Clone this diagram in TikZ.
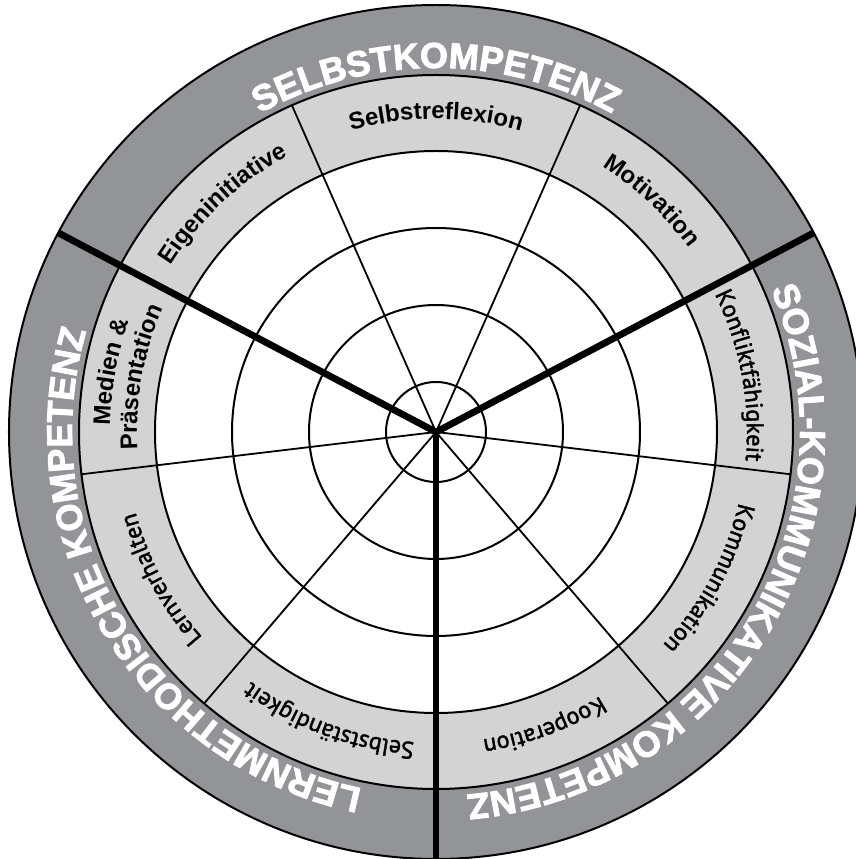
\documentclass[tikz,border=0pt]{standalone}
\usepackage{fontspec}
\setmainfont{Liberation Sans}
\newfontfamily\heavyfont[FakeBold=2.5]{Liberation Sans Bold}
\newfontfamily\humanfont[FakeBold=1.8]{PT Sans}
\usetikzlibrary{decorations.text}
\definecolor{ringdark}{RGB}{147,148,152}
\definecolor{ringlight}{RGB}{211,211,211}
% radius, start angle, end angle, font, colour, text
\newcommand\ringlabel[6]{%
  \path[decorate,decoration={text along path,text align=center,text color=#5,text={|#4|#6}}]
    (#2:#1pt) arc[start angle=#2,end angle=#3,radius=#1pt];}
\tikzset{
  ringline/.style={line width=2pt,draw=black},
  thinspoke/.style={line width=1.8pt,draw=black},
  thickspoke/.style={line width=6.8pt,draw=black},
}
\begin{document}
\begin{tikzpicture}
\useasboundingbox (-436pt,-427pt) rectangle (419pt,432pt);
\coordinate (c) at (0,0);
% rings
\fill[ringdark] (c) circle[radius=427pt];
\fill[ringlight] (c) circle[radius=357pt];
\fill[white] (c) circle[radius=281pt];
\foreach \r in {427,357,281,204,127,50}{
  \draw[ringline] (c) circle[radius=\r pt];
}
% thin spokes
\foreach \a [count=\i] in {66.2,113.8,-6.8,186.8,-49.5,229.5}{
  \coordinate (t\i) at (\a:357pt);
  \draw[thinspoke] (c) -- (t\i);
}
% thick spokes
\coordinate (k1) at (27.8:427pt);
\coordinate (k2) at (152.2:427pt);
\coordinate (k3) at (270:427pt);
\draw[thickspoke] (c) -- (k1);
\draw[thickspoke] (c) -- (k2);
\draw[thickspoke] (c) -- (k3);
% outer labels
\def\outerfont{\fontsize{36}{40}\selectfont\heavyfont}
\ringlabel{364}{152.2}{27.8}{\outerfont}{white}{SELBSTKOMPETENZ}
\ringlabel{364}{27.8}{-90}{\outerfont}{white}{SOZIAL-KOMMUNIKATIVE KOMPETENZ}
\ringlabel{364}{270}{152.2}{\outerfont}{white}{LERNMETHODISCHE KOMPETENZ}
% inner labels
\def\boldlab{\fontsize{24}{28}\selectfont\bfseries}
\def\reglab{\fontsize{24}{28}\selectfont\humanfont}
\ringlabel{313}{152.2}{113.8}{\boldlab}{black}{Eigeninitiative}
\ringlabel{313}{113.8}{66.2}{\boldlab}{black}{Selbstreflexion}
\ringlabel{313}{66.2}{27.8}{\boldlab}{black}{Motivation}
\ringlabel{311}{27.8}{-6.8}{\reglab}{black}{Konfliktfähigkeit}
\ringlabel{311}{-6.8}{-49.5}{\reglab}{black}{Kommunikation}
\ringlabel{311}{-49.5}{-90}{\reglab}{black}{Kooperation}
\ringlabel{311}{-90}{-130.5}{\reglab}{black}{Selbstständigkeit}
\ringlabel{311}{229.5}{186.8}{\reglab}{black}{Lernverhalten}
\ringlabel{326}{186.8}{152.2}{\boldlab}{black}{Medien {\&}}
\ringlabel{299}{186.8}{152.2}{\boldlab}{black}{Präsentation}
\end{tikzpicture}
\end{document}
